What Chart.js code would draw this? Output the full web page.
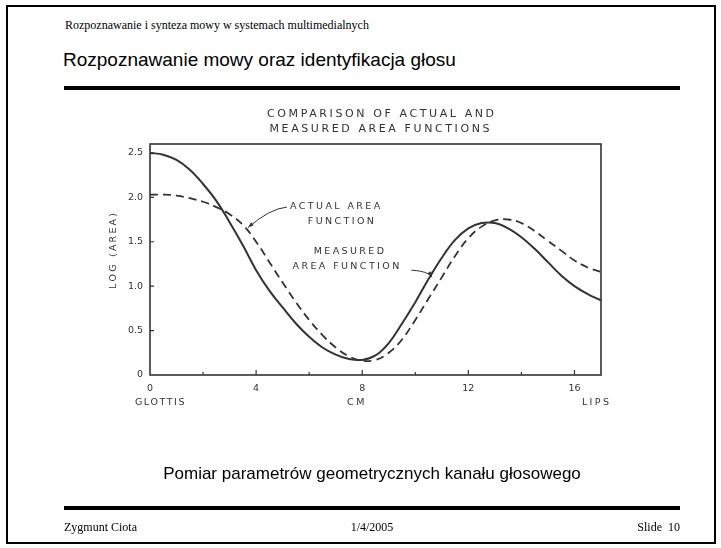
<!DOCTYPE html>
<html>
<head>
<meta charset="utf-8">
<script src="https://cdn.jsdelivr.net/npm/chart.js@4/dist/chart.umd.min.js"></script>
<style>
body{margin:0;background:#fff;}
#slide{position:relative;width:721px;height:548px;overflow:hidden;background:#fff;}
#frame{position:absolute;left:6px;top:5px;width:706px;height:535px;border:2px solid #000;}
.t{position:absolute;white-space:nowrap;color:#000;line-height:1;}
.serif{font-family:"Liberation Serif","Times New Roman",serif;font-size:12px;}
.sans{font-family:"Liberation Sans",Arial,sans-serif;}
.rule{position:absolute;left:64px;width:616px;height:4px;background:#000;}
#c{position:absolute;left:0;top:0;}
</style>
</head>
<body>
<div id="slide">
  <div id="frame"></div>
  <div class="t serif" style="left:65px;top:19px;">Rozpoznawanie i synteza mowy w systemach multimedialnych</div>
  <div class="t sans" style="left:63px;top:50px;font-size:19px;">Rozpoznawanie mowy oraz identyfikacja głosu</div>
  <div class="rule" style="top:86px;"></div>
  <canvas id="c" width="721" height="548"></canvas>
  <div class="t sans" style="left:0;width:744px;text-align:center;top:465px;font-size:17px;">Pomiar parametrów geometrycznych kanału głosowego</div>
  <div class="rule" style="top:506px;"></div>
  <div class="t serif" style="left:64px;top:521px;">Zygmunt Ciota</div>
  <div class="t serif" style="left:0;width:744px;text-align:center;top:521px;">1/4/2005</div>
  <div class="t serif" style="right:41px;top:521px;">Slide&nbsp;&nbsp;10</div>
</div>
<script>
// DATA
const cm = [0,0.5,1,1.5,2,2.5,3,3.5,4,4.5,5,5.5,6,6.5,7,7.5,8,8.5,9,9.5,10,10.5,11,11.5,12,12.5,13,13.5,14,14.5,15,15.5,16,16.5,17];
// solid line (arrow "MEASURED AREA FUNCTION")
const measuredArea = [2.50,2.48,2.42,2.31,2.15,1.96,1.72,1.46,1.18,0.95,0.76,0.58,0.43,0.31,0.23,0.18,0.17,0.22,0.36,0.58,0.82,1.08,1.32,1.52,1.65,1.71,1.71,1.65,1.55,1.42,1.27,1.12,1.00,0.91,0.84];
// dashed line (arrow "ACTUAL AREA FUNCTION")
const actualArea = [2.03,2.03,2.02,1.99,1.95,1.89,1.81,1.69,1.50,1.27,1.04,0.82,0.62,0.45,0.31,0.21,0.16,0.17,0.25,0.40,0.62,0.86,1.10,1.34,1.54,1.67,1.74,1.75,1.71,1.62,1.51,1.40,1.29,1.21,1.16];
const xLabelTicks = [0,4,8,12,16];
const xTickMarks = [2,4,6,8,10,12,14,16];
const yTicks = [0,0.5,1,1.5,2,2.5];
const yTickLabels = ["0","0.5","1.0","1.5","2.0","2.5"];
const titleLines = ["COMPARISON OF ACTUAL AND","MEASURED AREA FUNCTIONS"];

const ink = "#333";
const face = "'DejaVu Sans', sans-serif";

function txt(ctx, s, px, py, align, size, spacing){
  ctx.font = size + "px " + face;
  ctx.letterSpacing = spacing + "px";
  ctx.textAlign = align;
  ctx.textBaseline = "middle";
  ctx.fillText(s, px, py);
}

// arrow from (x0,y0) via (cx,cy) to (x1,y1), data coords
function leader(ctx, sx, sy, p){
  const x0=sx.getPixelForValue(p[0]), y0=sy.getPixelForValue(p[1]);
  const cx=sx.getPixelForValue(p[2]), cy=sy.getPixelForValue(p[3]);
  const x1=sx.getPixelForValue(p[4]), y1=sy.getPixelForValue(p[5]);
  ctx.beginPath(); ctx.moveTo(x0,y0); ctx.quadraticCurveTo(cx,cy,x1,y1); ctx.stroke();
  const ang=Math.atan2(y1-cy,x1-cx);
  ctx.beginPath();
  ctx.moveTo(x1,y1);
  ctx.lineTo(x1-6*Math.cos(ang-0.35), y1-6*Math.sin(ang-0.35));
  ctx.lineTo(x1-6*Math.cos(ang+0.35), y1-6*Math.sin(ang+0.35));
  ctx.closePath(); ctx.fill();
}

const decor = {
  id: "decor",
  afterDraw(chart){
    const {ctx, chartArea:a, scales:{x, y}} = chart;
    ctx.save();
    ctx.strokeStyle = ink; ctx.fillStyle = ink;
    ctx.lineWidth = 1.6;
    ctx.strokeRect(a.left, a.top, a.right-a.left, a.bottom-a.top);
    ctx.lineWidth = 1.2;
    ctx.beginPath();
    xTickMarks.forEach(v=>{
      const px = x.getPixelForValue(v);
      ctx.moveTo(px, a.bottom); ctx.lineTo(px, a.bottom-(v%4 ? 3 : 5));
    });
    yTicks.slice(1).forEach(v=>{
      const py = y.getPixelForValue(v);
      ctx.moveTo(a.left, py); ctx.lineTo(a.left+4, py);
    });
    ctx.stroke();

    // titles and labels
    txt(ctx, titleLines[0], x.getPixelForValue(8.74), y.getPixelForValue(2.94), "center", 11, 2.6);
    txt(ctx, titleLines[1], x.getPixelForValue(8.70), y.getPixelForValue(2.77), "center", 11, 2.6);
    txt(ctx, "ACTUAL AREA", x.getPixelForValue(5.28), y.getPixelForValue(1.90), "left", 9.5, 2.4);
    txt(ctx, "FUNCTION", x.getPixelForValue(7.24), y.getPixelForValue(1.73), "center", 9.5, 2.4);
    txt(ctx, "MEASURED", x.getPixelForValue(7.54), y.getPixelForValue(1.385), "center", 9.5, 2.4);
    txt(ctx, "AREA FUNCTION", x.getPixelForValue(7.43), y.getPixelForValue(1.216), "center", 9.5, 2.4);
    txt(ctx, "GLOTTIS", x.getPixelForValue(-0.57), y.getPixelForValue(-0.315), "left", 9.5, 1.6);
    txt(ctx, "CM", x.getPixelForValue(7.8), y.getPixelForValue(-0.315), "center", 9.5, 2.4);
    txt(ctx, "LIPS", x.getPixelForValue(16.28), y.getPixelForValue(-0.315), "left", 9.5, 2.4);

    ctx.save();
    ctx.translate(x.getPixelForValue(-1.39), y.getPixelForValue(1.41));
    ctx.rotate(-Math.PI/2);
    txt(ctx, "LOG (AREA)", 0, 0, "center", 9.5, 2.2);
    ctx.restore();

    ctx.lineWidth = 1;
    leader(ctx, x, y, [5.16,1.89, 4.5,1.87, 3.70,1.66]);
    leader(ctx, x, y, [9.85,1.18, 10.5,1.17, 10.63,1.10]);
    ctx.restore();
  }
};

new Chart(document.getElementById("c"), {
  type: "line",
  data: {
    datasets: [
      {label: "Measured area function", data: cm.map((v,i)=>({x:v, y:measuredArea[i]})),
       borderColor: ink, borderWidth: 2, pointRadius: 0, tension: 0.4, fill: false},
      {label: "Actual area function", data: cm.map((v,i)=>({x:v, y:actualArea[i]})),
       borderColor: ink, borderWidth: 1.8, borderDash: [8,5], pointRadius: 0, tension: 0.4, fill: false}
    ]
  },
  options: {
    responsive: false,
    animation: false,
    layout: {padding: {left: 100, top: 144, right: 120, bottom: 143}},
    plugins: {legend: {display: false}, tooltip: {enabled: false}},
    scales: {
      x: {
        type: "linear", min: 0, max: 17,
        afterBuildTicks: s => { s.ticks = xLabelTicks.map(v=>({value:v})); },
        afterFit: s => { s.height = 30; },
        grid: {display: false, drawTicks: false},
        border: {display: false},
        ticks: {padding: 8, autoSkip: false, maxRotation: 0, color: ink, font: {family: "DejaVu Sans", size: 9.5}}
      },
      y: {
        type: "linear", min: 0, max: 2.6,
        afterBuildTicks: s => { s.ticks = yTicks.map(v=>({value:v})); },
        afterFit: s => { s.width = 50; },
        grid: {display: false, drawTicks: false},
        border: {display: false},
        ticks: {padding: 7, color: ink, font: {family: "DejaVu Sans", size: 9.5},
          callback: v => yTickLabels[yTicks.indexOf(v)]}
      }
    }
  },
  plugins: [decor]
});
</script>
</body>
</html>
